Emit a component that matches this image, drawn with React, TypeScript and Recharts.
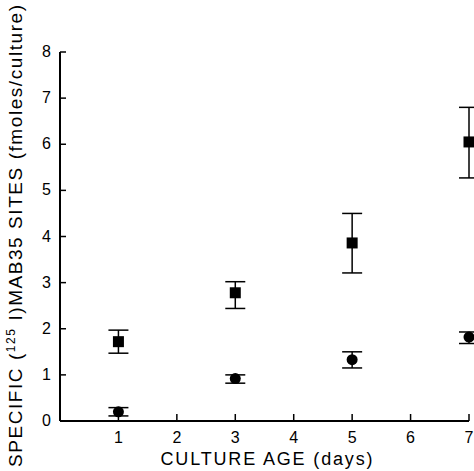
import { ErrorBar, Scatter, ScatterChart, XAxis, YAxis } from "recharts";

// culture age (days)
const days = [1, 3, 5, 7];

// squares: total specific sites, mean with error-bar bounds
const squareMean = [1.72, 2.78, 3.86, 6.05];
const squareLow = [1.47, 2.44, 3.21, 5.27];
const squareHigh = [1.97, 3.02, 4.5, 6.8];

// circles
const circleMean = [0.2, 0.92, 1.33, 1.82];
const circleLow = [0.11, 0.82, 1.15, 1.68];
const circleHigh = [0.29, 1.0, 1.5, 1.93];

const xTicks = [1, 2, 3, 4, 5, 6, 7];
const yTicks = [0, 1, 2, 3, 4, 5, 6, 7, 8];

const FONT = '"Liberation Sans", Arial, sans-serif';

const build = (mean: number[], low: number[], high: number[]) =>
  days.map((d, i) => ({
    day: d,
    value: mean[i],
    err: [mean[i] - low[i], high[i] - mean[i]],
  }));

const squares = build(squareMean, squareLow, squareHigh);
const circles = build(circleMean, circleLow, circleHigh);

function XTick({ x, y, payload }: any) {
  return (
    <g>
      <line x1={x} y1={y} x2={x} y2={y - 7} stroke="#000" strokeWidth={1.5} />
      <text x={x} y={y + 22} textAnchor="middle" fontSize={16} fontFamily={FONT} fill="#000">
        {payload.value}
      </text>
    </g>
  );
}

function YTick({ x, y, payload }: any) {
  return (
    <g>
      <line x1={x} y1={y} x2={x + 6} y2={y} stroke="#000" strokeWidth={1.5} />
      <text x={x - 9} y={y + 5} textAnchor="end" fontSize={16} fontFamily={FONT} fill="#000">
        {payload.value}
      </text>
    </g>
  );
}

const SquareDot = ({ cx, cy }: any) => <rect x={cx - 5.5} y={cy - 5.5} width={11} height={11} fill="#000" />;
const CircleDot = ({ cx, cy }: any) => <circle cx={cx} cy={cy} r={5.5} fill="#000" />;

export default function App() {
  return (
    <div style={{ width: 474, height: 471, overflow: "hidden", background: "#fff" }}>
      <style>{"body{margin:0}"}</style>
      <ScatterChart width={474} height={471} margin={{ top: 52, right: 5, bottom: 0, left: 0 }}>
        <XAxis
          type="number"
          dataKey="day"
          domain={[0, 7]}
          ticks={xTicks}
          tick={<XTick />}
          tickSize={0}
          tickMargin={0}
          tickLine={false}
          height={50}
          axisLine={{ stroke: "#000", strokeWidth: 2 }}
          label={{
            content: ({ viewBox }: any) => (
              <text
                x={viewBox.x + viewBox.width / 2 + 2}
                y={viewBox.y + 44}
                textAnchor="middle"
                fontSize={18}
                textLength={212}
                lengthAdjust="spacing"
                fontFamily={FONT}
                fill="#000"
              >
                CULTURE AGE (days)
              </text>
            ),
          }}
        />
        <YAxis
          type="number"
          dataKey="value"
          domain={[0, 8]}
          ticks={yTicks}
          tick={<YTick />}
          tickSize={0}
          tickMargin={0}
          tickLine={false}
          width={60}
          axisLine={{ stroke: "#000", strokeWidth: 2 }}
          label={{
            content: ({ viewBox }: any) => {
              const cx = 22;
              const cy = 236;
              return (
                <text
                  x={cx}
                  y={cy}
                  transform={`rotate(-90 ${cx} ${cy})`}
                  textAnchor="middle"
                  fontSize={19}
                  textLength={462}
                  lengthAdjust="spacing"
                  fontFamily={FONT}
                  fill="#000"
                >
                  SPECIFIC (
                  <tspan fontSize={12} dy={-7}>
                    125
                  </tspan>
                  <tspan dy={7}> I)MAB35 SITES (fmoles/culture)</tspan>
                </text>
              );
            },
          }}
        />
        <Scatter data={squares} shape={<SquareDot />} isAnimationActive={false}>
          <ErrorBar dataKey="err" direction="y" width={10} stroke="#000" strokeWidth={1.5} />
        </Scatter>
        <Scatter data={circles} shape={<CircleDot />} isAnimationActive={false}>
          <ErrorBar dataKey="err" direction="y" width={10} stroke="#000" strokeWidth={1.5} />
        </Scatter>
      </ScatterChart>
    </div>
  );
}
